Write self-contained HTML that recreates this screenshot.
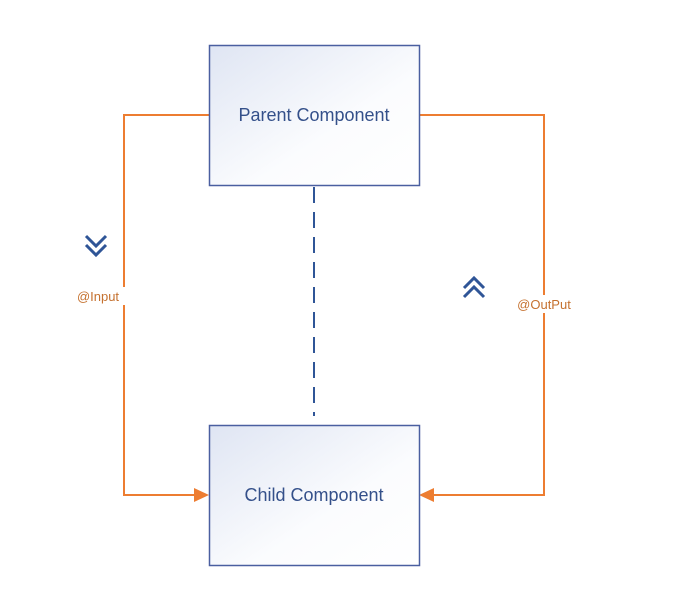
<!DOCTYPE html>
<html><head><style>body{margin:0;background:#fff}</style></head><body>
<svg width="688" height="601" xmlns="http://www.w3.org/2000/svg" style="display:block">
<defs>
<linearGradient id="g" x1="0" y1="0" x2="1" y2="1">
<stop offset="0" stop-color="#dfe5f3"/><stop offset="0.6" stop-color="#fbfcfe"/><stop offset="1" stop-color="#ffffff"/>
</linearGradient>
</defs>
<rect width="688" height="601" fill="#fff"/>
<g stroke="#ed7d31" stroke-width="2" fill="none">
<polyline points="209,115 124,115 124,495 196,495"/>
<polyline points="419,115 544,115 544,495 432,495"/>
</g>
<polygon points="209,495 194,488 194,502" fill="#ed7d31"/>
<polygon points="419,495 434,488 434,502" fill="#ed7d31"/>
<line x1="314" y1="187" x2="314" y2="416" stroke="#2f5597" stroke-width="2" stroke-dasharray="16,9"/>
<rect x="209.5" y="45.5" width="210" height="140" fill="url(#g)" stroke="#4a5fa0" stroke-width="1.5"/>
<rect x="209.5" y="425.5" width="210" height="140" fill="url(#g)" stroke="#4a5fa0" stroke-width="1.5"/>
<g font-family="Liberation Sans, sans-serif" fill="#34508a" font-size="18" text-anchor="middle">
<text x="314" y="121">Parent Component</text>
<text x="314" y="501">Child Component</text>
</g>
<g font-family="Liberation Sans, sans-serif" fill="#c5712f" font-size="13" text-anchor="middle">
<rect x="70" y="287" width="56" height="18" fill="#fff"/>
<text x="98" y="301">@Input</text>
<rect x="508" y="295" width="72" height="18" fill="#fff"/>
<text x="544" y="309">@OutPut</text>
</g>
<g stroke="#2f5597" stroke-width="3" fill="none">
<polyline points="86,236 96,246 106,236"/>
<polyline points="86,245 96,255 106,245"/>
<polyline points="464,288 474,278 484,288"/>
<polyline points="464,297 474,287 484,297"/>
</g>
</svg>
</body></html>
